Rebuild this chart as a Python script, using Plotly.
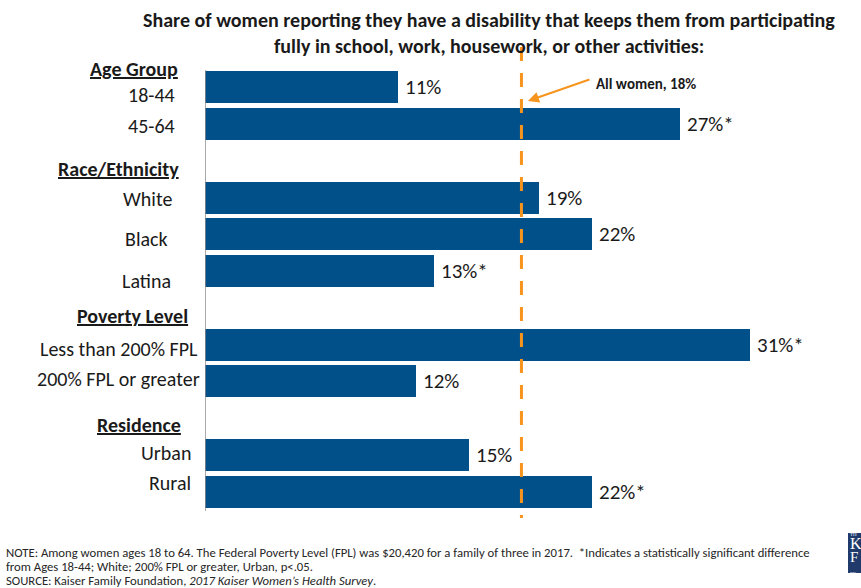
import plotly.graph_objects as go

# --- data -------------------------------------------------------------------
group_names = ["Age Group", "Race/Ethnicity", "Poverty Level", "Residence"]
categories = ["18-44", "45-64", "White", "Black", "Latina",
              "Less than 200% FPL", "200% FPL or greater", "Urban", "Rural"]
category_group = [0, 0, 1, 1, 1, 2, 2, 3, 3]
values = [11, 27, 19, 22, 13, 31, 12, 15, 22]
significant = [False, True, False, False, True, True, False, False, True]
all_women = 18

# --- styling ----------------------------------------------------------------
FONT = "Carlito, Calibri, Lato, sans-serif"
BAR = "#02508A"
ORANGE = "#F7941D"
W, H = 861, 588
ML, MR, MT, MB = 205, 0, 69, 78
PW, PH = W - ML - MR, H - MT - MB

# slot index for each bar: one blank slot between groups
slots = []
s = 0
for i, g in enumerate(category_group):
    if i > 0 and g != category_group[i - 1]:
        s += 1
    slots.append(s)
    s += 1
n_slots = slots[-1] + 1

def px_to_paper_y(py):
    return (H - MB - py) / PH

def px_to_paper_x(px):
    return (px - ML) / PW

fig = go.Figure(go.Bar(
    x=values, y=slots, orientation="h",
    marker=dict(color=BAR, line=dict(width=0)),
    width=0.87, hoverinfo="skip",
))

ann = []
# value labels
for v, sl, sig in zip(values, slots, significant):
    ann.append(dict(x=v, y=sl, xref="x", yref="y", text=f"{v}%" + ("*" if sig else ""),
                    showarrow=False, xanchor="left", xshift=5,
                    font=dict(family=FONT, size=21, color="#1a1a1a")))

# category labels (right edge in px, vertical nudge in px)
label_right = [177, 177, 174, 170, 173, 200, 202, 193, 193]
label_nudge = [-8, -1.5, -1.5, -5, -10, -4.5, 2.5, 2, 9]
for c, sl, r, dy in zip(categories, slots, label_right, label_nudge):
    ann.append(dict(x=0, y=sl, xref="paper", yref="y", text=c, showarrow=False,
                    xanchor="right", xshift=r - ML, yshift=dy,
                    font=dict(family=FONT, size=20, color="#1a1a1a")))

# group headers, placed above the first bar of each group
header_right = [180, 181, 190, 183]
header_rise = [18, 29, 29, 30]
for gi, gname in enumerate(group_names):
    first = slots[category_group.index(gi)]
    ann.append(dict(x=0, y=first, xref="paper", yref="y", text=f"<b><u>{gname}</u></b>",
                    showarrow=False, xanchor="right", xshift=header_right[gi] - ML,
                    yshift=header_rise[gi],
                    font=dict(family=FONT, size=20, color="#1a1a1a")))

# chart title
for txt, py in [("Share of women reporting they have a disability that keeps them from participating", 20),
                ("fully in school, work, housework, or other activities:", 46)]:
    ann.append(dict(x=px_to_paper_x(489), y=px_to_paper_y(py), xref="paper", yref="paper",
                    text=f"<b>{txt}</b>", showarrow=False, xanchor="center", yanchor="middle",
                    font=dict(family=FONT, size=20, color="#1a1a1a")))

# reference line callout
ann.append(dict(x=all_women, y=px_to_paper_y(101), xref="x", yref="paper", xshift=6.5,
                ax=63, ay=-22, axref="pixel", ayref="pixel", text="", showarrow=True,
                arrowhead=2, arrowsize=1.1, arrowwidth=2, arrowcolor=ORANGE))
ann.append(dict(x=all_women, y=px_to_paper_y(84), xref="x", yref="paper", xshift=594 - 521.5,
                text=f"<b>All women, {all_women}%</b>", showarrow=False, xanchor="left",
                yanchor="middle", font=dict(family=FONT, size=15, color="#1a1a1a")))

# footnotes
notes = [
    "NOTE: Among women ages 18 to 64. The Federal Poverty Level (FPL) was $20,420 for a family of three in 2017.  *Indicates a statistically significant difference",
    "from Ages 18-44; White; 200% FPL or greater, Urban, p<.05.",
    "SOURCE: Kaiser Family Foundation, <i>2017 Kaiser Women\u2019s Health Survey</i>.",
]
for txt, py in zip(notes, [552, 566, 580]):
    ann.append(dict(x=0, y=px_to_paper_y(py), xref="paper", yref="paper", xshift=4 - ML,
                    text=txt, showarrow=False, xanchor="left", yanchor="middle",
                    font=dict(family=FONT, size=12.7, color="#262626")))

# foundation logo block in the corner (letters run off the right edge)
LOGO_FONT = "Liberation Serif, DejaVu Serif, serif"
ann.append(dict(x=px_to_paper_x(849), y=px_to_paper_y(531), xref="paper", yref="paper",
                text=("<span style='font-size:5px'>TH</span><br>"
                      "<span style='font-size:16px'>K</span><br>"
                      "<span style='font-size:15px'>F</span><br>"
                      "<span style='font-size:5px'>FO</span>"),
                showarrow=False, xanchor="left", yanchor="top", align="left", borderpad=0,
                font=dict(family=LOGO_FONT, size=10, color="white")))

shapes = [
    # left axis rule
    dict(type="line", xref="x", yref="paper", x0=0, x1=0, y0=px_to_paper_y(70), y1=px_to_paper_y(511),
         line=dict(color="#8c8c8c", width=1.5)),
    # all-women reference line
    dict(type="line", xref="x", yref="paper", x0=all_women, x1=all_women,
         y0=px_to_paper_y(47), y1=px_to_paper_y(518),
         line=dict(color=ORANGE, width=3, dash="14px,12px")),
    # logo background
    dict(type="rect", xref="paper", yref="paper", x0=px_to_paper_x(848), x1=px_to_paper_x(870),
         y0=px_to_paper_y(533), y1=px_to_paper_y(573), fillcolor="#1F3A6B", line=dict(width=0)),
]

fig.update_layout(
    width=W, height=H,
    margin=dict(l=ML, r=MR, t=MT, b=MB),
    paper_bgcolor="white", plot_bgcolor="white",
    showlegend=False,
    bargap=0,
    xaxis=dict(range=[0, PW / 17.58], visible=False, fixedrange=True),
    yaxis=dict(range=[n_slots - 0.5, -0.5], visible=False, fixedrange=True),
    annotations=ann, shapes=shapes,
)

fig.write_html("out.html")
